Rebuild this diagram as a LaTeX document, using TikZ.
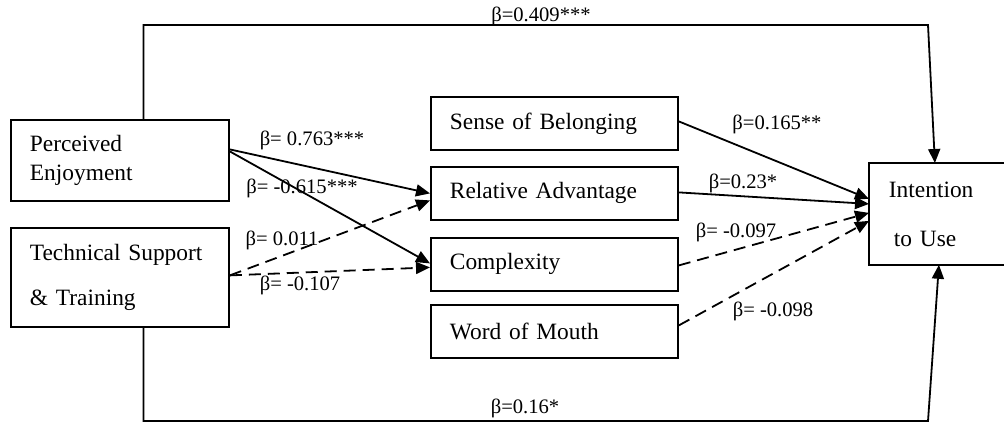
\documentclass[tikz,border=0pt]{standalone}
\usepackage{fontspec}
\setmainfont{Liberation Serif}
\usetikzlibrary{positioning,calc,arrows.meta}

\begin{document}
\begin{tikzpicture}[x=0.5pt,y=-0.5pt,
  cbox/.style={draw,line width=0.9pt,anchor=north west,align=left,inner xsep=9.5pt,inner ysep=0pt,font=\fontsize{11.7}{14.5}\selectfont},
  mbox/.style={cbox,text width=104.5pt,minimum height=26.5pt},
  lbl/.style={font=\fontsize{10.3}{12}\selectfont,inner sep=0pt},
  arr/.style={line width=0.9pt,-{Triangle[length=7pt,width=6pt]}},
  darr/.style={arr,dash pattern=on 6pt off 3.5pt}]
\useasboundingbox (0,0) rectangle (1004,423);
\clip (0,0) rectangle (1004,423);
% constructs
\node[cbox,text width=90pt,minimum height=40.5pt] (PE) at (10,119) {Perceived\\Enjoyment};
\node[cbox,text width=90pt,minimum height=49.5pt,font=\fontsize{11.7}{22.5}\selectfont] (TS) at (10,227) {Technical Support\\\& Training};
\node[mbox] (SB) at (430,96) {Sense of Belonging};
\node[mbox] (RA) at (430,166) {Relative Advantage};
\node[mbox] (CX) at (430,237) {Complexity};
\node[mbox] (WM) at (430,304) {Word of Mouth};
\node[cbox,draw=none,text width=70pt,minimum height=50pt,font=\fontsize{11.7}{24.5}\selectfont] (IU) at (869,163) {Intention\\\hspace*{2.5pt}to Use};
\draw[line width=0.9pt] (IU.north east) -- (IU.north west) -- (IU.south west) -- (IU.south east);
\coordinate (tr) at (928,25);
\coordinate (br) at (928,421);
% paths
\draw[arr] ([xshift=11.75pt]PE.north) |- (tr) -- ([xshift=-12pt]IU.north);
\draw[arr] ([xshift=11.75pt]TS.south) |- (br) -- ([xshift=-10pt]IU.south);
\draw[arr] ([yshift=5.5pt]PE.east) -- (RA.west);
\draw[arr] ([yshift=4.5pt]PE.east) -- ([yshift=0.5pt]CX.west);
\draw[darr] ([yshift=1pt]TS.east) -- ([yshift=-3.5pt]RA.west);
\draw[darr] ([yshift=1pt]TS.east) -- ([yshift=-1.5pt]CX.west);
\draw[arr] ([yshift=1pt]SB.east) -- ([yshift=7.5pt]IU.west);
\draw[arr] ([yshift=0.5pt]RA.east) -- ([yshift=5pt]IU.west);
\draw[darr] ([yshift=-0.5pt]CX.east) -- ([yshift=0.5pt]IU.west);
\draw[darr] ([yshift=3pt]WM.east) -- ([yshift=-3.5pt]IU.west);
% coefficients
\node[lbl] (b1) at (541,16) {β=0.409***};
\node[lbl] (b2) at (312,140) {β= 0.763***};
\node[lbl] (b3) at (302,188) {β= -0.615***};
\node[lbl] (b4) at (282,240) {β= 0.011};
\node[lbl] (b5) at (300,285) {β= -0.107};
\node[lbl] (b6) at (777,124) {β=0.165**};
\node[lbl] (b7) at (743,183) {β=0.23*};
\node[lbl] (b8) at (736,232) {β= -0.097};
\node[lbl] (b9) at (773,311) {β= -0.098};
\node[lbl] (b10) at (525,408) {β=0.16*};
\end{tikzpicture}
\end{document}
